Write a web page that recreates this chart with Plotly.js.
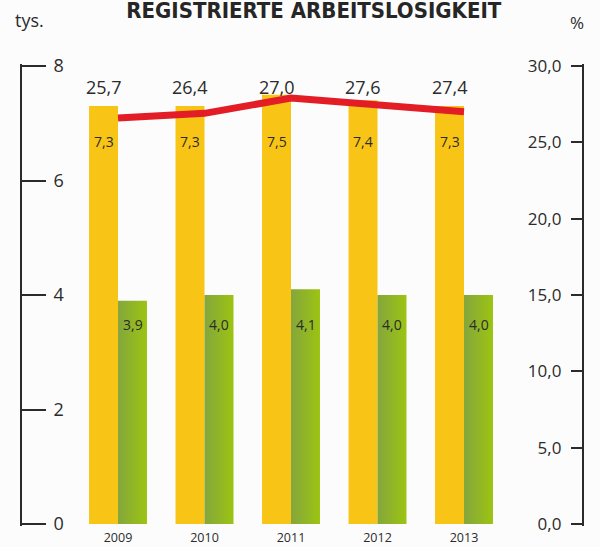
<!DOCTYPE html>
<html>
<head>
<meta charset="utf-8">
<script src="https://cdn.plot.ly/plotly-3.0.1.min.js"></script>
<style>
  html, body { margin: 0; padding: 0; background: #fcfcfc; }
  #chart { width: 600px; height: 547px; }
</style>
</head>
<body>
<div id="chart"></div>
<script>
// ---- data ----
var years = ['2009', '2010', '2011', '2012', '2013'];
var registeredThousands = [7.3, 7.3, 7.5, 7.4, 7.3];   // yellow bars (tys.)
var secondThousands = [3.9, 4.0, 4.1, 4.0, 4.0];       // green bars (tys.)
var rateLabels = [25.7, 26.4, 27.0, 27.6, 27.4];       // % labels printed above
var rateLineDrawn = [26.6, 26.9, 27.9, 27.4, 27.0];    // red line as drawn (%)
var leftTicks = [0, 2, 4, 6, 8];
var rightTicks = [0, 5, 10, 15, 20, 25, 30];

var fmt = function (v) { return v.toFixed(1).replace('.', ','); };
var textColor = '#2b2b2b';
var bodyFont = 'Open Sans, Noto Sans, sans-serif';

// tiny range padding so the end ticks (bracket corners) are drawn
var pad = 0.035;
var leftMax = 8, rightMax = 30;

var data = [
  {
    type: 'bar', x: years, y: registeredThousands, yaxis: 'y',
    marker: { color: '#f8c516', line: { width: 0 } },
    hoverinfo: 'skip', showlegend: false
  },
  {
    type: 'bar', x: years, y: secondThousands, yaxis: 'y',
    marker: { color: '#90b52a', line: { width: 0 } },
    hoverinfo: 'skip', showlegend: false
  },
  {
    type: 'scatter', mode: 'lines', x: years, y: rateLineDrawn, yaxis: 'y2',
    line: { color: '#e31d25', width: 7 },
    hoverinfo: 'skip', showlegend: false
  }
];

var annotations = [];
var barHalf = 14.5;
years.forEach(function (yr, i) {
  // category axis: position by category index
  annotations.push({ x: i, y: 7.63, xref: 'x', yref: 'y', xshift: -barHalf,
    text: fmt(rateLabels[i]), showarrow: false,
    font: { family: bodyFont, size: 18, color: textColor } });
  annotations.push({ x: i, y: 6.69, xref: 'x', yref: 'y', xshift: -barHalf,
    text: fmt(registeredThousands[i]), showarrow: false,
    font: { family: bodyFont, size: 14, color: textColor } });
  annotations.push({ x: i, y: 3.48, xref: 'x', yref: 'y', xshift: barHalf,
    text: fmt(secondThousands[i]), showarrow: false,
    font: { family: bodyFont, size: 14, color: textColor } });
});
annotations.push({ x: 0, y: 1, xref: 'paper', yref: 'paper', xshift: -9, yshift: 44,
  text: 'tys.', showarrow: false, xanchor: 'left', yanchor: 'middle',
  font: { family: bodyFont, size: 18, color: textColor } });
annotations.push({ x: 1, y: 1, xref: 'paper', yref: 'paper', xshift: 4, yshift: 42,
  text: '%', showarrow: false, xanchor: 'right', yanchor: 'middle',
  font: { family: bodyFont, size: 17, color: textColor } });

var layout = {
  width: 600, height: 547,
  margin: { l: 22, r: 18, t: 64, b: 21 },
  paper_bgcolor: '#fcfcfc', plot_bgcolor: '#fcfcfc',
  separators: ', ',
  barmode: 'group', bargap: 0.33, bargroupgap: 0,
  showlegend: false,
  title: {
    text: 'REGISTRIERTE ARBEITSLOSIGKEIT',
    x: 0.523, xanchor: 'center', xref: 'container',
    y: 0.982, yanchor: 'middle', yref: 'container',
    font: { family: 'Liberation Sans Narrow, DejaVu Sans Condensed, sans-serif', size: 22, weight: 700, color: '#262626' }
  },
  xaxis: {
    type: 'category', range: [-1.11, 5.364],
    showline: false, showgrid: false, zeroline: false, ticks: '',
    tickfont: { family: bodyFont, size: 12.5, color: textColor },
    ticklabelstandoff: 2, fixedrange: true
  },
  yaxis: {
    range: [-pad, leftMax + pad], tickvals: leftTicks, ticktext: leftTicks.map(String),
    showline: true, linecolor: '#2b2b2b', linewidth: 2,
    ticks: 'inside', ticklen: 24, tickwidth: 2, tickcolor: '#2b2b2b',
    ticklabelposition: 'inside', ticklabelstandoff: 8, ticklabeloverflow: 'allow',
    showgrid: false, zeroline: false,
    tickfont: { family: bodyFont, size: 18, color: textColor }, fixedrange: true
  },
  yaxis2: {
    overlaying: 'y', side: 'right',
    range: [-pad * rightMax / leftMax, rightMax + pad * rightMax / leftMax],
    tickvals: rightTicks, tickformat: '.1f',
    showline: true, linecolor: '#2b2b2b', linewidth: 2,
    ticks: 'inside', ticklen: 11, tickwidth: 2, tickcolor: '#2b2b2b',
    ticklabelposition: 'inside', ticklabelstandoff: 10, ticklabeloverflow: 'allow',
    showgrid: false, zeroline: false,
    tickfont: { family: bodyFont, size: 17, color: textColor }, fixedrange: true
  },
  annotations: annotations
};

Plotly.newPlot('chart', data, layout, { displayModeBar: false, staticPlot: true }).then(function (gd) {
  var ns = 'http://www.w3.org/2000/svg';
  var svg = gd.querySelector('svg.main-svg');
  var defs = svg.querySelector('defs') || svg.insertBefore(document.createElementNS(ns, 'defs'), svg.firstChild);
  var lg = document.createElementNS(ns, 'linearGradient');
  lg.setAttribute('id', 'greenGrad');
  lg.setAttribute('x1', '0'); lg.setAttribute('y1', '0');
  lg.setAttribute('x2', '1'); lg.setAttribute('y2', '0');
  [['0', '#84a63c'], ['1', '#9cc412']].forEach(function (s) {
    var st = document.createElementNS(ns, 'stop');
    st.setAttribute('offset', s[0]); st.setAttribute('stop-color', s[1]);
    lg.appendChild(st);
  });
  defs.appendChild(lg);
  var barTraces = gd.querySelectorAll('.barlayer .trace');
  if (barTraces[1]) {
    barTraces[1].querySelectorAll('path').forEach(function (p) { p.style.fill = 'url(#greenGrad)'; });
  }
});
</script>
</body>
</html>
